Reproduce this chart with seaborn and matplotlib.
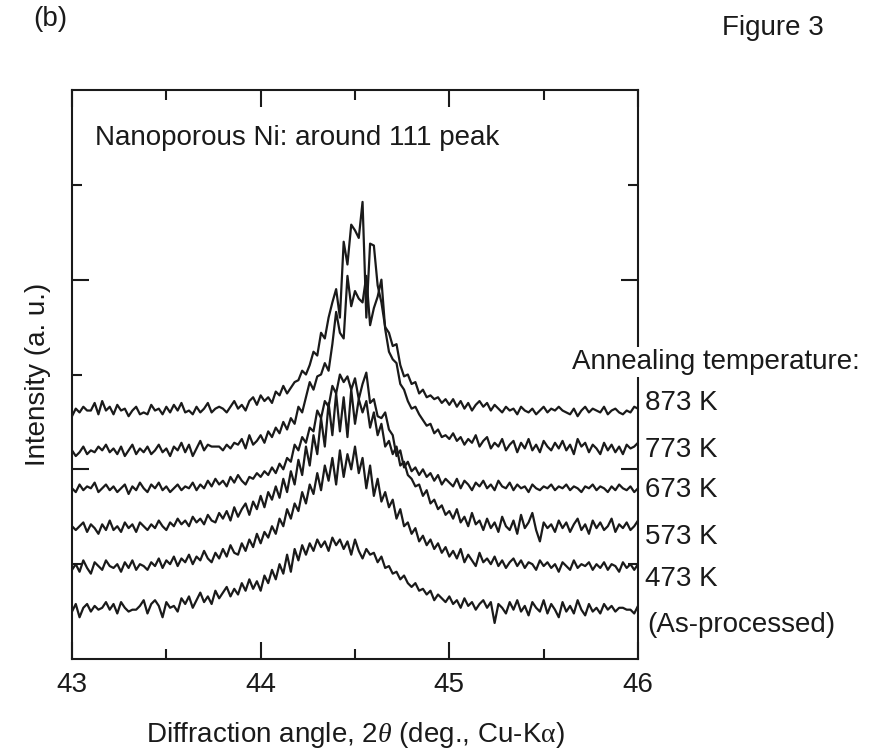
import numpy as np
import pandas as pd
import matplotlib
matplotlib.use("Agg")
import matplotlib.pyplot as plt
import seaborn as sns
from matplotlib.ticker import FixedLocator, NullFormatter

# ---------------- data ----------------
two_theta = np.round(np.linspace(43.0, 46.0, 151), 2)

sample_labels = ["873 K", "773 K", "673 K", "573 K", "473 K", "(As-processed)"]

int_873 = [
    1.28, 1.32, 1.30, 1.33, 1.31, 1.31, 1.35, 1.29, 1.36, 1.31,
    1.33, 1.29, 1.34, 1.31, 1.32, 1.28, 1.31, 1.33, 1.29, 1.30,
    1.29, 1.34, 1.31, 1.32, 1.29, 1.33, 1.30, 1.34, 1.31, 1.35,
    1.30, 1.31, 1.29, 1.33, 1.30, 1.32, 1.35, 1.30, 1.32, 1.33,
    1.32, 1.30, 1.33, 1.36, 1.32, 1.34, 1.31, 1.36, 1.38, 1.34,
    1.39, 1.36, 1.38, 1.35, 1.41, 1.39, 1.44, 1.40, 1.43, 1.46,
    1.47, 1.52, 1.50, 1.55, 1.62, 1.60, 1.72, 1.69, 1.80, 1.88,
    1.95, 1.80, 2.20, 2.08, 2.29, 2.26, 2.22, 2.41, 1.80, 2.19,
    2.18, 1.97, 1.88, 1.75, 1.72, 1.65, 1.66, 1.55, 1.49, 1.50,
    1.45, 1.46, 1.40, 1.42, 1.38, 1.39, 1.37, 1.38, 1.35, 1.37,
    1.34, 1.37, 1.33, 1.36, 1.32, 1.35, 1.31, 1.34, 1.36, 1.33,
    1.35, 1.31, 1.34, 1.32, 1.30, 1.33, 1.31, 1.32, 1.29, 1.33,
    1.31, 1.30, 1.32, 1.29, 1.31, 1.33, 1.30, 1.32, 1.31, 1.33,
    1.31, 1.30, 1.29, 1.32, 1.28, 1.31, 1.33, 1.30, 1.32, 1.31,
    1.30, 1.33, 1.29, 1.31, 1.32, 1.30, 1.29, 1.31, 1.30, 1.33,
    1.32,
]

int_773 = [
    1.10, 1.07, 1.09, 1.12, 1.08, 1.10, 1.09, 1.12, 1.10, 1.13,
    1.09, 1.11, 1.08, 1.12, 1.07, 1.10, 1.13, 1.08, 1.11, 1.09,
    1.12, 1.08, 1.10, 1.13, 1.09, 1.11, 1.07, 1.12, 1.10, 1.14,
    1.09, 1.13, 1.07, 1.11, 1.15, 1.10, 1.13, 1.12, 1.12, 1.12,
    1.10, 1.13, 1.11, 1.14, 1.13, 1.16, 1.11, 1.18, 1.13, 1.15,
    1.18, 1.14, 1.20, 1.17, 1.22, 1.19, 1.25, 1.21, 1.27, 1.24,
    1.33, 1.30, 1.38, 1.46, 1.42, 1.49, 1.50, 1.56, 1.52, 1.66,
    1.83, 1.72, 1.69, 2.02, 1.86, 1.94, 1.90, 1.88, 2.02, 1.76,
    1.85, 1.91, 2.00, 1.74, 1.62, 1.58, 1.56, 1.45, 1.42, 1.36,
    1.32, 1.33, 1.29, 1.26, 1.23, 1.24, 1.19, 1.21, 1.17, 1.18,
    1.16, 1.19, 1.15, 1.17, 1.13, 1.16, 1.14, 1.18, 1.12, 1.15,
    1.17, 1.11, 1.14, 1.12, 1.16, 1.10, 1.13, 1.15, 1.09, 1.14,
    1.11, 1.16, 1.10, 1.13, 1.09, 1.15, 1.12, 1.10, 1.14, 1.11,
    1.15, 1.10, 1.13, 1.08, 1.16, 1.12, 1.14, 1.09, 1.13, 1.11,
    1.08, 1.14, 1.10, 1.13, 1.09, 1.12, 1.08, 1.13, 1.11, 1.12,
    1.14,
]

int_673 = [
    0.90, 0.88, 0.92, 0.89, 0.91, 0.90, 0.93, 0.88, 0.90, 0.92,
    0.89, 0.91, 0.88, 0.90, 0.92, 0.87, 0.91, 0.89, 0.93, 0.90,
    0.88, 0.92, 0.90, 0.93, 0.89, 0.91, 0.88, 0.90, 0.92, 0.89,
    0.91, 0.90, 0.93, 0.89, 0.92, 0.90, 0.94, 0.91, 0.95, 0.92,
    0.94, 0.91, 0.96, 0.93, 0.97, 0.94, 0.92, 0.96, 0.95, 0.98,
    0.96, 0.99, 0.97, 1.01, 0.98, 1.03, 1.00, 1.06, 1.04, 1.13,
    1.10, 1.17, 1.14, 1.22, 1.20, 1.31, 1.27, 1.36, 1.33, 1.44,
    1.40, 1.50, 1.46, 1.49, 1.42, 1.48, 1.37, 1.45, 1.51, 1.35,
    1.37, 1.28, 1.27, 1.30, 1.21, 1.18, 1.07, 1.10, 1.01, 1.04,
    0.99, 1.01, 0.97, 1.00, 0.96, 0.98, 0.94, 0.97, 0.92, 0.95,
    0.93, 0.91, 0.95, 0.90, 0.94, 0.92, 0.89, 0.93, 0.91, 0.94,
    0.90, 0.92, 0.89, 0.94, 0.91, 0.90, 0.93, 0.89, 0.92, 0.90,
    0.91, 0.88, 0.92, 0.90, 0.89, 0.91, 0.90, 0.92, 0.89, 0.91,
    0.90, 0.92, 0.89, 0.91, 0.90, 0.88, 0.91, 0.90, 0.92, 0.89,
    0.91, 0.90, 0.88, 0.91, 0.89, 0.92, 0.90, 0.89, 0.91, 0.88,
    0.90,
]

int_573 = [
    0.70, 0.68, 0.70, 0.72, 0.67, 0.71, 0.69, 0.66, 0.71, 0.68,
    0.73, 0.68, 0.70, 0.67, 0.72, 0.69, 0.71, 0.67, 0.72, 0.70,
    0.68, 0.71, 0.69, 0.73, 0.70, 0.68, 0.72, 0.70, 0.74, 0.71,
    0.73, 0.70, 0.75, 0.72, 0.74, 0.71, 0.76, 0.73, 0.72, 0.77,
    0.74, 0.78, 0.73, 0.80, 0.75, 0.79, 0.82, 0.76, 0.83, 0.79,
    0.86, 0.80, 0.88, 0.84, 0.91, 0.85, 0.95, 0.88, 0.99, 0.92,
    1.05, 0.97, 1.12, 1.02, 1.18, 1.08, 1.27, 1.12, 1.35, 1.18,
    1.40, 1.20, 1.38, 1.17, 1.42, 1.24, 1.37, 1.30, 1.36, 1.22,
    1.30, 1.18, 1.24, 1.12, 1.15, 1.08, 1.12, 1.02, 1.04, 0.97,
    0.95, 0.91, 0.92, 0.86, 0.89, 0.82, 0.84, 0.79, 0.81, 0.76,
    0.78, 0.74, 0.79, 0.72, 0.75, 0.70, 0.77, 0.71, 0.73, 0.68,
    0.74, 0.69, 0.72, 0.67, 0.75, 0.70, 0.68, 0.73, 0.66, 0.76,
    0.69, 0.72, 0.77, 0.68, 0.62, 0.72, 0.69, 0.71, 0.67, 0.73,
    0.69, 0.72, 0.67, 0.71, 0.74, 0.68, 0.71, 0.66, 0.73, 0.69,
    0.72, 0.68, 0.70, 0.74, 0.67, 0.71, 0.69, 0.72, 0.68, 0.70,
    0.73,
]

int_473 = [
    0.47, 0.50, 0.46, 0.52, 0.48, 0.45, 0.51, 0.49, 0.47, 0.52,
    0.49, 0.48, 0.50, 0.46, 0.51, 0.48, 0.52, 0.47, 0.50, 0.49,
    0.47, 0.51, 0.49, 0.53, 0.48, 0.52, 0.50, 0.54, 0.49, 0.53,
    0.51, 0.55, 0.50, 0.54, 0.52, 0.57, 0.53, 0.51, 0.56, 0.53,
    0.58, 0.54, 0.60, 0.56, 0.55, 0.61, 0.57, 0.63, 0.59, 0.66,
    0.61, 0.67, 0.64, 0.70, 0.66, 0.74, 0.70, 0.79, 0.74, 0.82,
    0.78, 0.88, 0.82, 0.92, 0.87, 0.98, 0.89, 1.02, 0.94, 1.06,
    0.92, 1.10, 0.96, 1.08, 1.00, 1.12, 0.98, 1.06, 0.90, 1.02,
    0.86, 0.95, 0.83, 0.88, 0.80, 0.84, 0.74, 0.79, 0.70, 0.72,
    0.66, 0.69, 0.62, 0.65, 0.60, 0.63, 0.58, 0.61, 0.56, 0.59,
    0.54, 0.57, 0.53, 0.58, 0.51, 0.55, 0.52, 0.49, 0.56, 0.51,
    0.53, 0.50, 0.54, 0.49, 0.52, 0.48, 0.51, 0.53, 0.49, 0.52,
    0.48, 0.51, 0.50, 0.47, 0.52, 0.49, 0.51, 0.48, 0.50, 0.46,
    0.51, 0.49, 0.47, 0.52, 0.48, 0.50, 0.49, 0.51, 0.47, 0.50,
    0.48, 0.51, 0.47, 0.50, 0.49, 0.46, 0.51, 0.48, 0.50, 0.47,
    0.50,
]

int_as = [
    0.25, 0.29, 0.22, 0.27, 0.29, 0.25, 0.28, 0.26, 0.27, 0.30,
    0.26, 0.29, 0.24, 0.30, 0.27, 0.25, 0.26, 0.26, 0.28, 0.31,
    0.24, 0.29, 0.31, 0.28, 0.22, 0.30, 0.27, 0.28, 0.25, 0.32,
    0.29, 0.33, 0.27, 0.31, 0.35, 0.30, 0.33, 0.29, 0.36, 0.32,
    0.35, 0.38, 0.33, 0.37, 0.34, 0.40, 0.36, 0.42, 0.37, 0.41,
    0.36, 0.44, 0.40, 0.47, 0.42, 0.50, 0.45, 0.55, 0.46, 0.58,
    0.52, 0.60, 0.55, 0.61, 0.57, 0.63, 0.59, 0.62, 0.57, 0.64,
    0.60, 0.63, 0.58, 0.62, 0.55, 0.63, 0.57, 0.53, 0.58, 0.55,
    0.56, 0.51, 0.54, 0.48, 0.49, 0.45, 0.46, 0.42, 0.44, 0.40,
    0.38, 0.40, 0.36, 0.37, 0.34, 0.36, 0.31, 0.34, 0.32, 0.30,
    0.33, 0.29, 0.31, 0.27, 0.32, 0.28, 0.30, 0.26, 0.29, 0.31,
    0.27, 0.30, 0.19, 0.29, 0.27, 0.24, 0.30, 0.26, 0.31, 0.25,
    0.28, 0.23, 0.30, 0.27, 0.25, 0.31, 0.24, 0.29, 0.26, 0.22,
    0.30, 0.25, 0.28, 0.24, 0.31, 0.26, 0.23, 0.29, 0.25, 0.27,
    0.24, 0.29, 0.26, 0.28, 0.25, 0.27, 0.27, 0.26, 0.26, 0.24,
    0.28,
]

series = [int_873, int_773, int_673, int_573, int_473, int_as]

x_tick_values = [43, 44, 45, 46]
x_tick_labels = ["43", "44", "45", "46"]
x_minor = [43.5, 44.5, 45.5]
y_major = [1, 2]
y_minor = [0.5, 1.5, 2.5]

# vertical positions of the right-hand labels (data units)
label_y = [1.35, 1.10, 0.89, 0.645, 0.42, 0.18]

# ---------------- styling ----------------
sns.set_theme(style="ticks")
plt.rcParams['font.family'] = ['Liberation Sans', 'DejaVu Sans']
plt.rcParams['mathtext.fontset'] = 'custom'
plt.rcParams['mathtext.rm'] = 'Liberation Sans'
plt.rcParams['mathtext.it'] = 'Liberation Serif:italic'
plt.rcParams['mathtext.sf'] = 'Liberation Serif'
plt.rcParams['text.color'] = '#1a1a1a'

INK = '#1a1a1a'
FS = 20

fig = plt.figure(figsize=(8.7, 7.5), dpi=100)
ax = fig.add_axes([72 / 870, 91 / 750, 566 / 870, 569 / 750])

df = pd.concat(
    [pd.DataFrame({"angle": two_theta, "intensity": vals, "sample": name})
     for name, vals in zip(sample_labels, series)],
    ignore_index=True,
)

sns.lineplot(data=df, x="angle", y="intensity", hue="sample",
             palette=[INK] * len(sample_labels), estimator=None,
             linewidth=1.6, legend=False, ax=ax)

ax.set_xlim(43, 46)
ax.set_ylim(0, 3.0)

for sp in ax.spines.values():
    sp.set_visible(True)
    sp.set_linewidth(1.5)
    sp.set_color(INK)

ax.set_xticks(x_tick_values)
ax.set_xticklabels(x_tick_labels)
ax.xaxis.set_minor_locator(FixedLocator(x_minor))
ax.set_yticks(y_major)
ax.yaxis.set_minor_locator(FixedLocator(y_minor))
ax.yaxis.set_major_formatter(NullFormatter())

ax.tick_params(axis='both', which='major', direction='in', length=12.5,
               width=1.5, color=INK, top=True, right=True)
ax.tick_params(axis='both', which='minor', direction='in', length=7,
               width=1.5, color=INK, top=True, right=True)
ax.tick_params(axis='x', which='major', labelsize=FS, pad=9, labelcolor=INK)
ax.tick_params(axis='y', which='both', labelleft=False)

ax.set_xlabel(r"Diffraction angle, 2$\theta$ (deg., Cu-K$\mathsf{\alpha}$)",
              fontsize=FS, color=INK)
ax.xaxis.set_label_coords(0.5, -0.107)
ax.set_ylabel("Intensity (a. u.)", fontsize=FS, color=INK)
ax.yaxis.set_label_coords(-0.037, 0.5)

# right-hand sample labels
ytrans = ax.get_yaxis_transform()
for name, yv in zip(sample_labels, label_y):
    xoff = 1.012 if not name.startswith("(") else 1.017
    ax.text(xoff, yv, name, transform=ytrans, fontsize=FS, va='center',
            ha='left', color=INK, clip_on=False)

fig.text(860 / 870, 1 - 362 / 750, "Annealing temperature:", fontsize=FS,
         ha='right', va='center', color=INK,
         bbox=dict(facecolor='white', edgecolor='none', pad=1.5))
fig.text(95 / 870, 1 - 138 / 750, "Nanoporous Ni: around 111 peak",
         fontsize=FS, ha='left', va='center', color=INK)
fig.text(33 / 870, 1 - 19 / 750, "(b)", fontsize=FS, ha='left',
         va='center', color=INK)
fig.text(722 / 870, 1 - 28 / 750, "Figure 3", fontsize=FS, ha='left',
         va='center', color=INK)

fig.savefig("out.png", dpi=100, facecolor='white')
